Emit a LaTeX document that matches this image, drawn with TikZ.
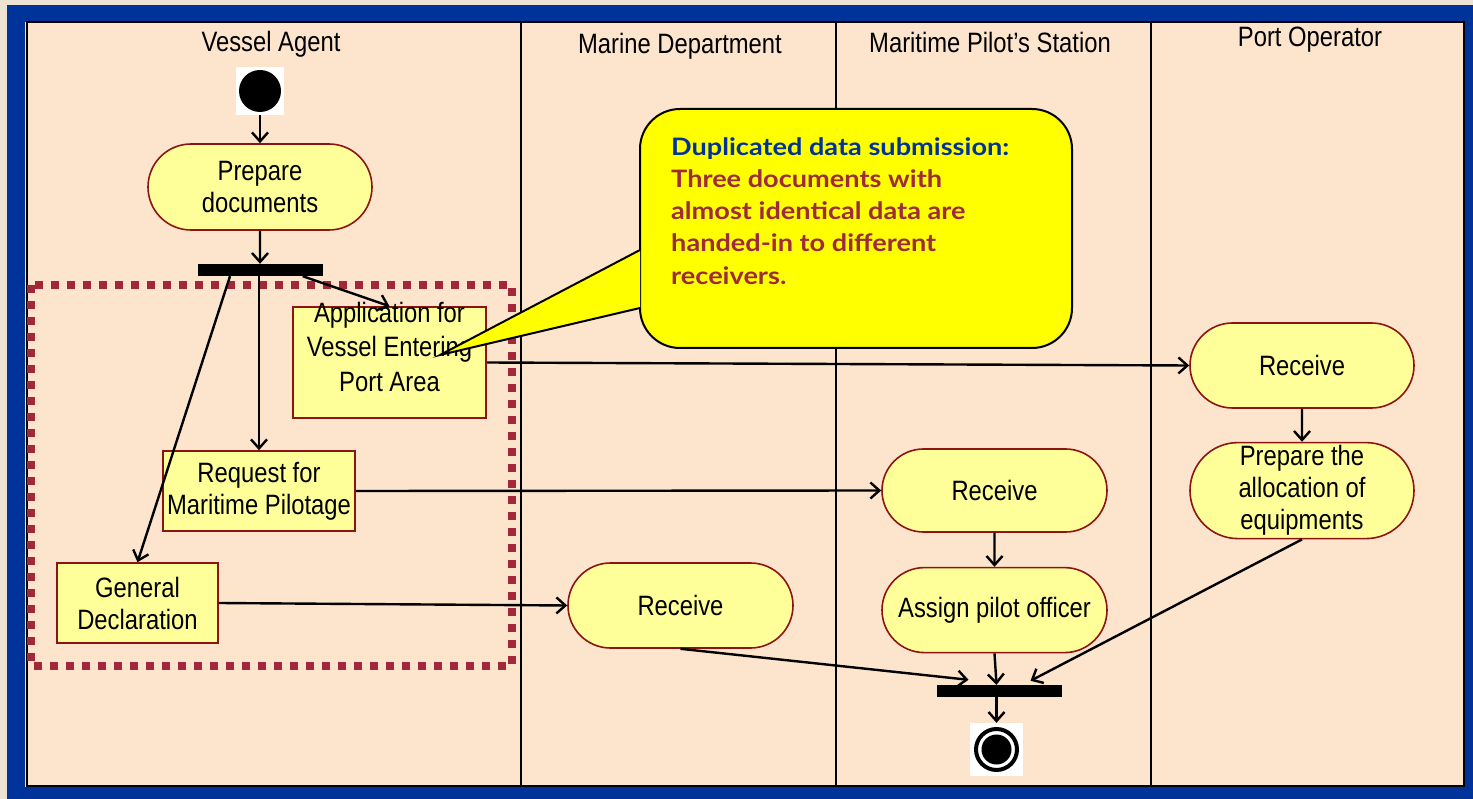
\documentclass[tikz,border=0pt]{standalone}
\usepackage{fontspec}
\setmainfont{Liberation Sans}
\newfontfamily\narrowfont[FakeStretch=0.85]{Liberation Sans}
\newfontfamily\notefont[FakeStretch=1.13]{Lato}
\usetikzlibrary{positioning, arrows.meta, shapes.misc}

\definecolor{outerbg}{RGB}{238,227,211}
\definecolor{frameblue}{RGB}{0,51,153}
\definecolor{lanebg}{RGB}{253,228,205}
\definecolor{actfill}{RGB}{255,255,153}
\definecolor{actdraw}{RGB}{140,20,20}
\definecolor{groupred}{RGB}{160,40,56}
\definecolor{notered}{RGB}{158,42,58}
\definecolor{noteyellow}{RGB}{255,255,0}

\tikzset{
  lane/.style={draw=black, line width=2.2pt},
  lanetitle/.style={font=\narrowfont\fontsize{28}{30}\selectfont},
  activity/.style={rounded rectangle, draw=actdraw, fill=actfill, line width=1.6pt,
                   align=center, inner sep=0pt, font=\narrowfont\fontsize{28}{32}\selectfont},
  docbox/.style={rectangle, draw=actdraw, fill=actfill, line width=1.6pt,
                 align=center, inner sep=0pt, font=\narrowfont\fontsize{28}{32}\selectfont},
  bar/.style={fill=black, minimum width=125pt, minimum height=12pt, inner sep=0pt},
  initnode/.style={fill=white, minimum size=48pt, inner sep=0pt,
                   path picture={\fill[black] (path picture bounding box.center) circle (21pt);}},
  finalnode/.style={fill=white, minimum size=53pt, inner sep=0pt,
                    path picture={\draw[line width=4pt] (path picture bounding box.center) circle (20.5pt);
                                  \fill[black] (path picture bounding box.center) circle (15pt);}},
  groupbox/.style={draw=groupred, line width=8pt, dash pattern=on 8pt off 8pt},
  note/.style={draw=black, fill=noteyellow, line width=2pt, rounded corners=40pt,
               minimum width=432pt, minimum height=239pt},
  notetext/.style={align=left, inner sep=0pt, font=\notefont\bfseries\fontsize{24}{32.3}\selectfont},
  flow/.style={->, line width=2.4pt}
}

\begin{document}
\begin{tikzpicture}[x=1pt, y=-1pt, >={Straight Barb[length=9pt,width=16pt]}]
  \useasboundingbox (0,0) rectangle (1473,799);
  % frame
  \fill[outerbg] (0,0) rectangle (1473,799);
  \fill[frameblue] (7,5) rectangle (1473,799);
  \fill[lanebg] (25,22) rectangle (1465,787);

  % swimlanes
  \draw[lane] (27,22) rectangle (521,786);
  \draw[lane] (521,22) rectangle (836,786);
  \draw[lane] (836,22) rectangle (1151,786);
  \draw[lane] (1151,22) rectangle (1464,786);
  \node[lanetitle] (agent)  at (271,44)  {Vessel Agent};
  \node[lanetitle] (marine) at (680,46)  {Marine Department};
  \node[lanetitle] (pilot)  at (990,42)  {Maritime Pilot’s Station};
  \node[lanetitle] (port)   at (1310,40) {Port Operator};

  % documents group
  \draw[groupbox] (31,285) rectangle (512,666);

  % vessel agent
  \node[initnode] (start) at (260,91) {};
  \node[activity, minimum width=224pt, minimum height=86pt] (prep) [below=28pt of start] {Prepare\\documents};
  \node[bar] (fork) [below=33pt of prep] {};
  \node[docbox, minimum width=193pt, minimum height=111pt,
        label={[align=center, font=\narrowfont\fontsize{28}{34.5}\selectfont, yshift=16pt]center:Application for\\Vessel Entering\\Port Area}]
        (app) at (389.5,362.5) {};
  \node[docbox, minimum width=192pt, minimum height=80pt] (req) at (259,491) {Request for\\Maritime Pilotage};
  \node[docbox, minimum width=161pt, minimum height=80pt] (gen) at (137.5,603) {General\\Declaration};

  % receivers
  \node[activity, minimum width=225pt, minimum height=85pt] (mrecv)  at (680.5,605.5) {Receive};
  \node[activity, minimum width=225pt, minimum height=83pt] (precv)  at (994.5,490.5) {Receive};
  \node[activity, minimum width=225pt, minimum height=85pt] (assign) [below=34pt of precv] {Assign pilot officer};
  \node[activity, minimum width=224pt, minimum height=85pt] (orecv)  at (1302,365.5) {Receive};
  \node[activity, minimum width=224pt, minimum height=96pt] (alloc)  [below=33pt of orecv] {Prepare the\\allocation of\\equipments};
  \node[bar] (join) at (999.5,691) {};
  \node[finalnode] (stop) at (996.5,749.5) {};

  % flows
  \draw[flow] (start) -- (prep);
  \draw[flow] (prep) -- (fork);
  \draw[flow] ([xshift=-30pt]fork.south) -- (gen.north);
  \draw[flow] (fork.south -| req.north) -- (req.north);
  \draw[flow] ([xshift=-20pt]fork.south east) -- (app.north);
  \draw[flow] (app.east) -- (orecv.west);
  \draw[flow] (req.east) -- (precv.west);
  \draw[flow] (gen.east) -- (mrecv.west);
  \draw[flow] (precv) -- (assign);
  \draw[flow] (orecv) -- (alloc);
  \draw[flow] (mrecv.south) -- ([xshift=-31pt, yshift=5pt]join.north);
  \draw[flow] (assign.south) -- ([xshift=-3pt]join.north);
  \draw[flow] (alloc.south) -- ([xshift=31pt, yshift=4pt]join.north);
  \draw[flow] (join.south -| stop.north) -- (stop.north);

  % callout
  \node[note] (note) at (856,228.5) {};
  \coordinate (tip) at ([xshift=50.5pt, yshift=7.5pt]app.center);
  \fill[noteyellow] ([xshift=1pt, yshift=-21.5pt]note.west) -- (tip) -- ([xshift=1pt, yshift=-79.5pt]note.west) -- cycle;
  \draw[line width=2pt] ([xshift=1pt, yshift=-21.5pt]note.west) -- (tip) -- ([xshift=1pt, yshift=-79.5pt]note.west);
  \node[notetext, anchor=north west] (notetxt) at ([xshift=32pt, yshift=-29pt]note.north west)
    {\textcolor{frameblue}{Duplicated data submission:}\\
     \textcolor{notered}{Three documents with}\\
     \textcolor{notered}{almost identical data are}\\
     \textcolor{notered}{handed-in to different}\\
     \textcolor{notered}{receivers.}};
\end{tikzpicture}
\end{document}
